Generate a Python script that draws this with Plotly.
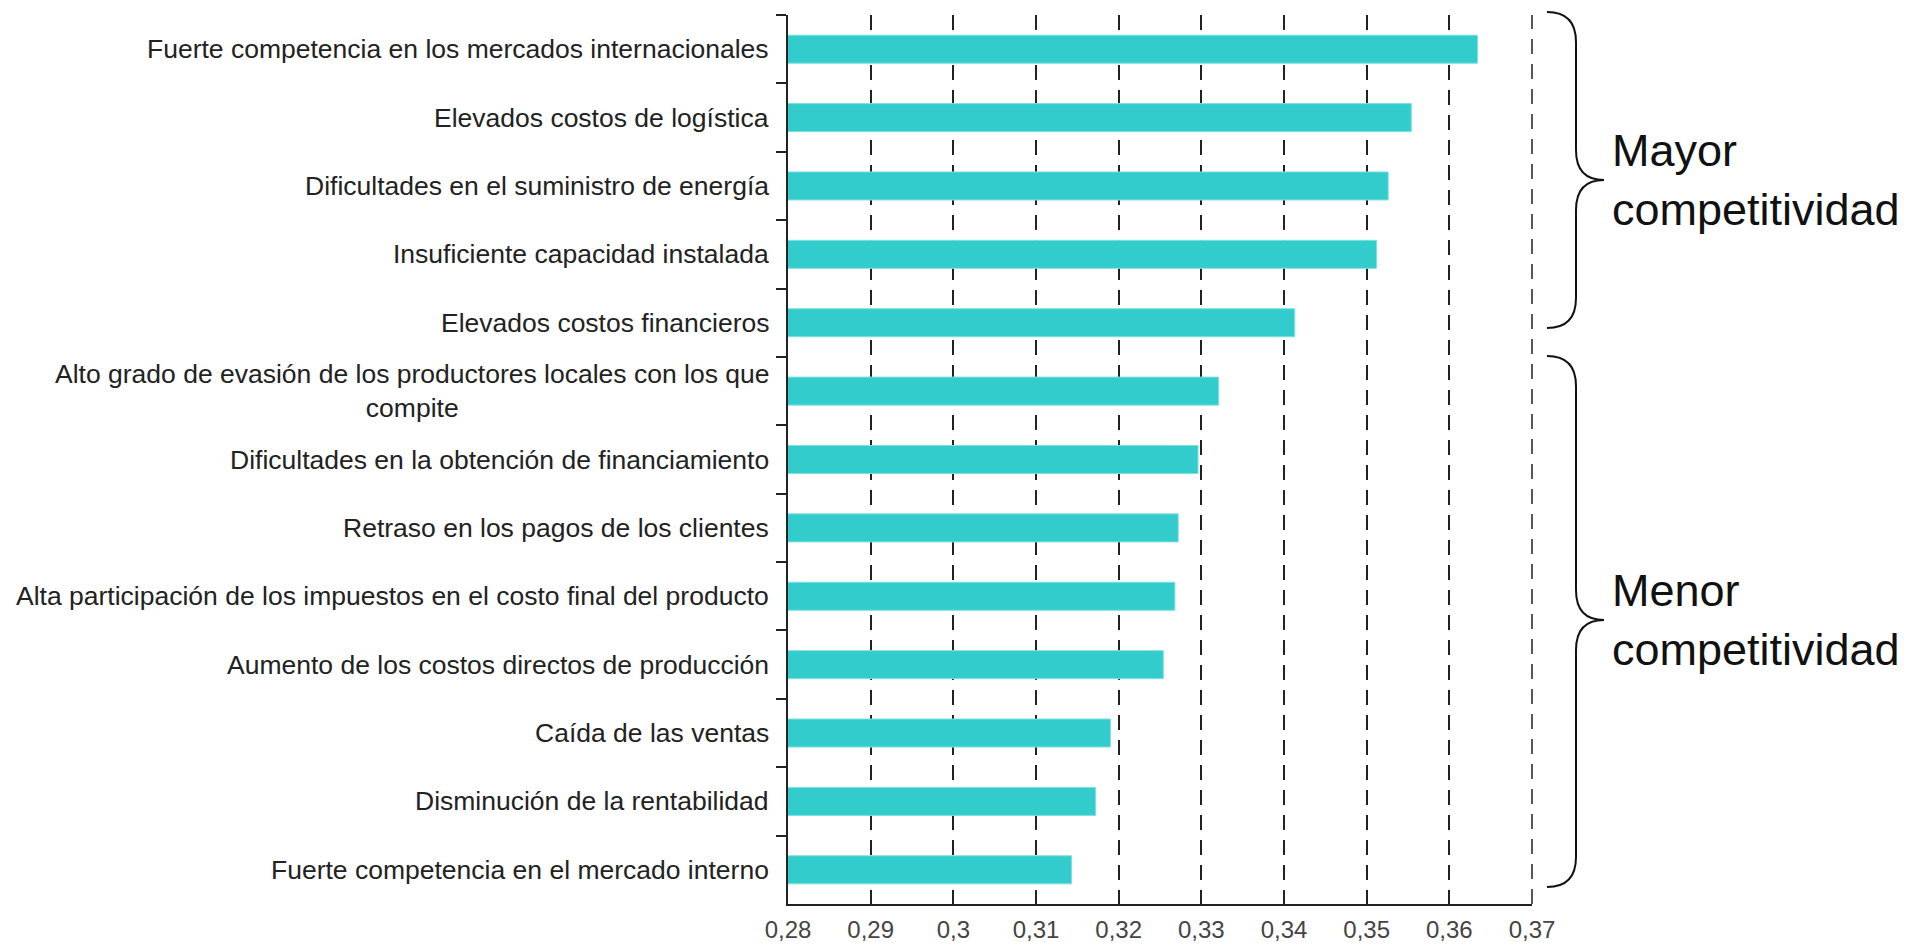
import plotly.graph_objects as go

# Factores (de arriba hacia abajo) y su valor
categories = [
    "Fuerte competencia en los mercados internacionales",
    "Elevados costos de logística",
    "Dificultades en el suministro de energía",
    "Insuficiente capacidad instalada",
    "Elevados costos financieros",
    "Alto grado de evasión de los productores locales con los que<br>compite",
    "Dificultades en la obtención de financiamiento",
    "Retraso en los pagos de los clientes",
    "Alta participación de los impuestos en el costo final del producto",
    "Aumento de los costos directos de producción",
    "Caída de las ventas",
    "Disminución de la rentabilidad",
    "Fuerte competencia en el mercado interno",
]
values = [0.3634, 0.3554, 0.3526, 0.3512, 0.3413, 0.3321, 0.3296,
          0.3272, 0.3268, 0.3254, 0.3190, 0.3172, 0.3143]
tick_vals = [0.28, 0.29, 0.30, 0.31, 0.32, 0.33, 0.34, 0.35, 0.36, 0.37]
group_labels = ["Mayor<br>competitividad", "Menor<br>competitividad"]

# the page body has an 8px margin, so the figure is a bit smaller than the window
OFF = 8
W, H = 1897, 936
L, R, T, B = 780, 373, 7, 40
plot_w = W - L - R
plot_h = H - T - B
GRID = dict(color="#222", width=1.5, dash="15px,10px")


def px(x):
    # page pixel x -> paper
    return (x - OFF - L) / plot_w


def py(y):
    # page pixel y -> paper
    return (H - B - (y - OFF)) / plot_h


def brace(y_top, y_bot, y_mid, x0=1547, xs=1576, xt=1604, r=30):
    # right facing curly brace, built in pixel space then mapped to paper
    pts = [
        ("M", [(x0, y_top)]),
        ("Q", [(xs, y_top), (xs, y_top + r)]),
        ("L", [(xs, y_mid - r)]),
        ("Q", [(xs, y_mid), (xt, y_mid)]),
        ("Q", [(xs, y_mid), (xs, y_mid + r)]),
        ("L", [(xs, y_bot - r)]),
        ("Q", [(xs, y_bot), (x0, y_bot)]),
    ]
    out = ""
    for cmd, coords in pts:
        out += cmd + " ".join(f"{px(a):.5f},{py(b):.5f}" for a, b in coords) + " "
    return out.strip()


fig = go.Figure()

fig.add_trace(go.Bar(
    x=values,
    y=categories,
    orientation="h",
    marker=dict(color="#33CCCC", line=dict(color="#7fe0e0", width=1)),
    hoverinfo="x+y",
))

# etiquetas de categoría (para poder centrar la línea partida)
for cat in categories:
    fig.add_annotation(
        x=0, xref="paper", y=cat, yref="y",
        text=cat, showarrow=False,
        xanchor="right", yanchor="middle", align="center",
        xshift=-17,
        font=dict(family="Liberation Sans, Arial, sans-serif", size=26.5, color="#222"),
    )

# la última línea de la grilla (borde derecho, x = 0.37) no la dibuja plotly
fig.add_shape(type="line", x0=1, x1=1, xref="paper",
              y0=0, y1=1, yref="paper", line=GRID)

# llaves y textos de grupo
braces = [(12, 328, 180), (356, 887, 620)]
for (yt, yb, ym), lab in zip(braces, group_labels):
    fig.add_shape(type="path", path=brace(yt, yb, ym), xref="paper", yref="paper",
                  line=dict(color="#111", width=2))
    fig.add_annotation(
        x=px(1610), xref="paper", y=py(ym), yref="paper",
        text=lab, showarrow=False, xanchor="left", yanchor="middle", align="left",
        font=dict(family="Liberation Sans, Arial, sans-serif", size=45, color="#111"),
    )

fig.update_layout(
    width=W, height=H,
    margin=dict(l=L, r=R, t=T, b=B, autoexpand=False),
    paper_bgcolor="white",
    plot_bgcolor="white",
    bargap=0.59,
    showlegend=False,
    separators=",.",
    xaxis=dict(
        range=[tick_vals[0], tick_vals[-1]],
        tickvals=tick_vals,
        ticks="",
        ticklabelstandoff=3,
        showline=True, linecolor="#222", linewidth=2,
        showgrid=True, gridcolor=GRID["color"], gridwidth=GRID["width"],
        griddash=GRID["dash"],
        zeroline=False,
        tickfont=dict(family="Liberation Sans Narrow, Arial Narrow, sans-serif",
                      size=24, color="#444"),
    ),
    yaxis=dict(
        type="category",
        autorange="reversed",
        showticklabels=False,
        ticks="outside", tickson="boundaries", ticklen=10,
        tickcolor="#222", tickwidth=2,
        showline=True, linecolor="#222", linewidth=2,
        showgrid=False, zeroline=False,
    ),
)

fig.write_html("out.html")
